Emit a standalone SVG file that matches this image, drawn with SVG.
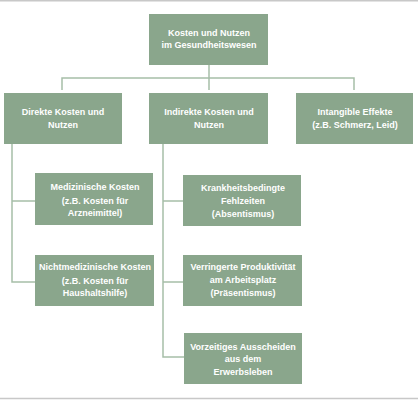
<svg xmlns="http://www.w3.org/2000/svg" width="418" height="400" viewBox="0 0 418 400">
<style>
.box{fill:#8aa68c}
.t{font-family:"Liberation Sans",Arial,sans-serif;font-weight:bold;font-size:9px;fill:#ffffff;text-anchor:middle}
.c{fill:none;stroke:#a6bea8;stroke-width:1.5}
.rule{stroke:#c8c8c8;stroke-width:1.5}
</style>
<rect width="418" height="400" fill="#ffffff"/>
<line class="rule" x1="0" y1="0.75" x2="418" y2="0.75"/>
<line class="rule" x1="0" y1="398.5" x2="418" y2="398.5"/>
<g id="connectors">
<path class="c" d="M209,65 V90 M62,90 V78 H354 V90"/>
<path class="c" d="M12,144 V282 H35 M12,201 H35"/>
<path class="c" d="M163,144 V357 H184 M163,201 H183 M163,282 H183"/>
</g>
<g id="root">
<rect class="box" x="149" y="14" width="119" height="51"/>
<text class="t" x="209" y="36">Kosten und Nutzen</text>
<text class="t" x="209" y="48">im Gesundheitswesen</text>
</g>
<g id="direkt">
<rect class="box" x="4" y="93" width="118" height="51"/>
<text class="t" x="63" y="115">Direkte Kosten und</text>
<text class="t" x="63" y="128">Nutzen</text>
</g>
<g id="indirekt">
<rect class="box" x="149" y="93" width="119" height="51"/>
<text class="t" x="209" y="115">Indirekte Kosten und</text>
<text class="t" x="209" y="128">Nutzen</text>
</g>
<g id="intangibel">
<rect class="box" x="296" y="93" width="117" height="51"/>
<text class="t" x="355" y="115">Intangible Effekte</text>
<text class="t" x="355" y="128">(z.B. Schmerz, Leid)</text>
</g>
<g id="medizinisch">
<rect class="box" x="35" y="173" width="118" height="52"/>
<text class="t" x="95" y="190">Medizinische Kosten</text>
<text class="t" x="95" y="204">(z.B. Kosten für</text>
<text class="t" x="95" y="216">Arzneimittel)</text>
</g>
<g id="nichtmedizinisch">
<rect class="box" x="35" y="255" width="119" height="51"/>
<text class="t" x="95" y="270">Nichtmedizinische Kosten</text>
<text class="t" x="95" y="284">(z.B. Kosten für</text>
<text class="t" x="95" y="296">Haushaltshilfe)</text>
</g>
<g id="krankheit">
<rect class="box" x="183" y="175" width="118" height="51"/>
<text class="t" x="243" y="191">Krankheitsbedingte</text>
<text class="t" x="243" y="204">Fehlzeiten</text>
<text class="t" x="243" y="217">(Absentismus)</text>
</g>
<g id="produktivitaet">
<rect class="box" x="183" y="255" width="119" height="51"/>
<text class="t" x="243" y="270">Verringerte Produktivität</text>
<text class="t" x="243" y="283">am Arbeitsplatz</text>
<text class="t" x="243" y="296">(Präsentismus)</text>
</g>
<g id="ausscheiden">
<rect class="box" x="184" y="333" width="118" height="51"/>
<text class="t" x="243" y="350">Vorzeitiges Ausscheiden</text>
<text class="t" x="243" y="362">aus dem</text>
<text class="t" x="243" y="375">Erwerbsleben</text>
</g>
</svg>
